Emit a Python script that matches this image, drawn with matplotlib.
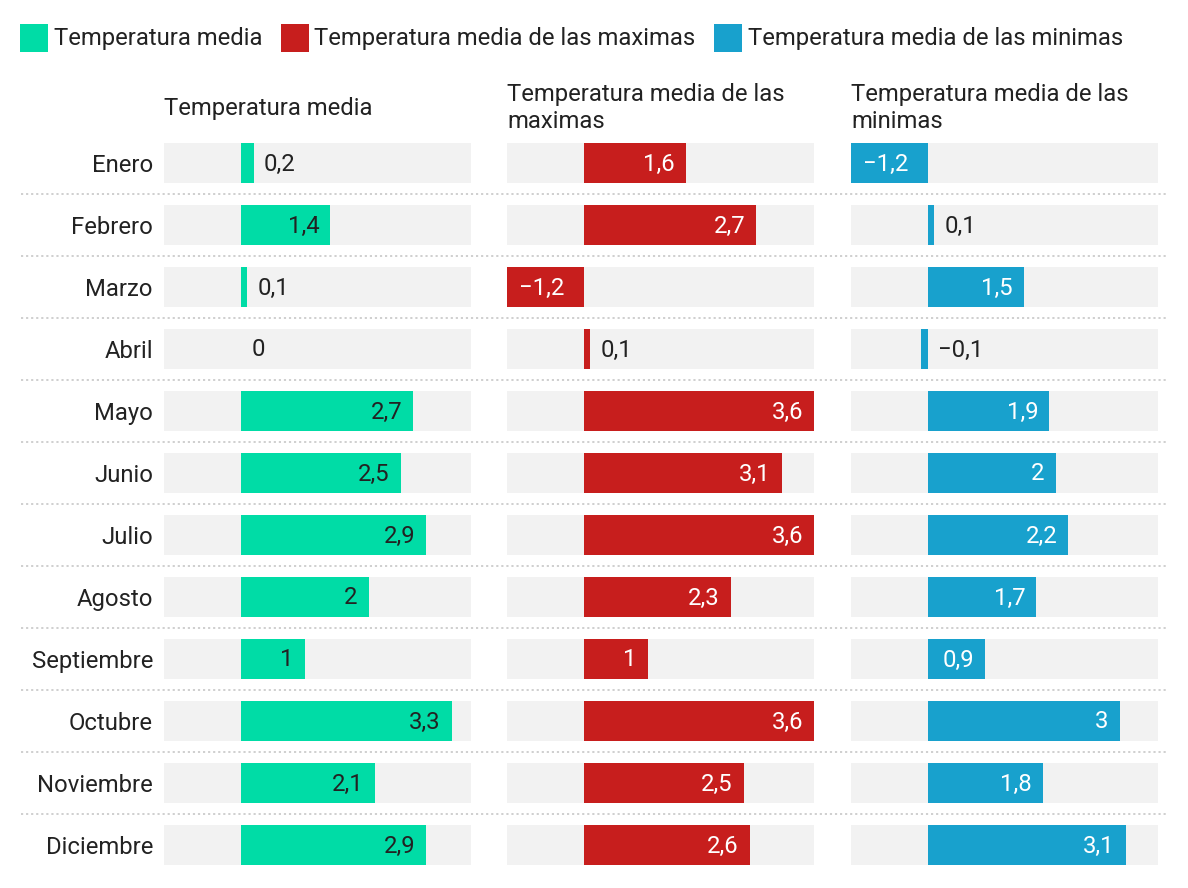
import matplotlib
matplotlib.use('Agg')
import matplotlib.pyplot as plt
from matplotlib.patches import Rectangle

# Data
months = ['Enero', 'Febrero', 'Marzo', 'Abril', 'Mayo', 'Junio', 'Julio',
          'Agosto', 'Septiembre', 'Octubre', 'Noviembre', 'Diciembre']
media = [0.2, 1.4, 0.1, 0, 2.7, 2.5, 2.9, 2, 1, 3.3, 2.1, 2.9]
maximas = [1.6, 2.7, -1.2, 0.1, 3.6, 3.1, 3.6, 2.3, 1, 3.6, 2.5, 2.6]
minimas = [-1.2, 0.1, 1.5, -0.1, 1.9, 2, 2.2, 1.7, 0.9, 3, 1.8, 3.1]

series_names = ['Temperatura media', 'Temperatura media de las maximas',
                'Temperatura media de las minimas']
panel_titles = ['Temperatura media', 'Temperatura media de las\nmaximas',
                'Temperatura media de las\nminimas']
colors = ['#00dca6', '#c71e1d', '#18a1cd']
inside_text = ['#222222', 'white', 'white']

plt.rcParams['font.family'] = ['Roboto', 'DejaVu Sans']
FS = 17.2
DARK = '#222222'
W, H = 1188, 888

fig = plt.figure(figsize=(W / 100, H / 100), dpi=100)

# vertical extent of the rows (pixels from top)
row_top, row_bottom = 132, 876
ax_b = (H - row_bottom) / H
ax_h = (row_bottom - row_top) / H
lefts = [164, 507, 851]
pw = 307
xmin, xmax = -1.2, 3.6
bar_h = 40 / 62


def fmt(v):
    s = str(int(v)) if float(v).is_integer() else f'{abs(v):.1f}'.replace('.', ',')
    if v < 0:
        s = '\u2212' + s.lstrip('-')
    return s


# background axes for the dotted separators
ax_bg = fig.add_axes([0, ax_b, 1, ax_h])
ax_bg.set_xlim(0, W)
ax_bg.set_ylim(len(months) - 0.5, -0.5)
ax_bg.axis('off')
for k in range(len(months) - 1):
    ax_bg.plot([21, 1166], [k + 0.5, k + 0.5], color='#cccccc', lw=1.3,
               linestyle=(0, (1.2, 1.6)), solid_capstyle='butt')

rows = list(range(len(months)))
for p, vals in enumerate([media, maximas, minimas]):
    ax = fig.add_axes([lefts[p] / W, ax_b, pw / W, ax_h])
    ax.set_facecolor('none')
    ax.set_xlim(xmin, xmax)
    ax.set_ylim(len(months) - 0.5, -0.5)
    for s in ax.spines.values():
        s.set_visible(False)
    ax.set_xticks([])
    if p == 0:
        ax.set_yticks(rows)
        ax.set_yticklabels(months, fontsize=FS, color=DARK)
        ax.tick_params(axis='y', length=0, pad=8)
    else:
        ax.set_yticks([])

    ax.barh(rows, [xmax - xmin] * len(rows), left=xmin, height=bar_h,
            color='#f2f2f2', zorder=1)
    ax.barh(rows, vals, height=bar_h, color=colors[p], zorder=2)

    for i, v in enumerate(vals):
        if v >= 0.5:
            ax.annotate(fmt(v), (v, i), xytext=(-8, -0.7), textcoords='offset points',
                        ha='right', va='center', fontsize=FS, color=inside_text[p], zorder=3)
        elif v <= -0.5:
            ax.annotate(fmt(v), (v, i), xytext=(8.5, -0.7), textcoords='offset points',
                        ha='left', va='center', fontsize=FS, color='white', zorder=3)
        else:
            ax.annotate(fmt(v), (max(v, 0), i), xytext=(7.5, -0.7), textcoords='offset points',
                        ha='left', va='center', fontsize=FS, color=DARK, zorder=3)

# overlay for legend and panel titles, in pixels
ax_top = fig.add_axes([0, 0, 1, 1])
ax_top.set_xlim(0, W)
ax_top.set_ylim(H, 0)
ax_top.axis('off')

renderer = fig.canvas.get_renderer()
x = 20
for name, c in zip(series_names, colors):
    ax_top.add_patch(Rectangle((x, 24), 28, 28, color=c, lw=0))
    t = ax_top.text(x + 34, 44.5, name, fontsize=FS, color=DARK, ha='left', va='baseline')
    bb = t.get_window_extent(renderer=renderer)
    x = bb.x1 + 18

for p, title in enumerate(panel_titles):
    lines = title.split('\n')
    base = 115 if len(lines) == 1 else 101
    for j, line in enumerate(lines):
        ax_top.text(lefts[p], base + 27 * j, line, fontsize=FS, color=DARK,
                    ha='left', va='baseline')

fig.savefig('out.png', dpi=100)
